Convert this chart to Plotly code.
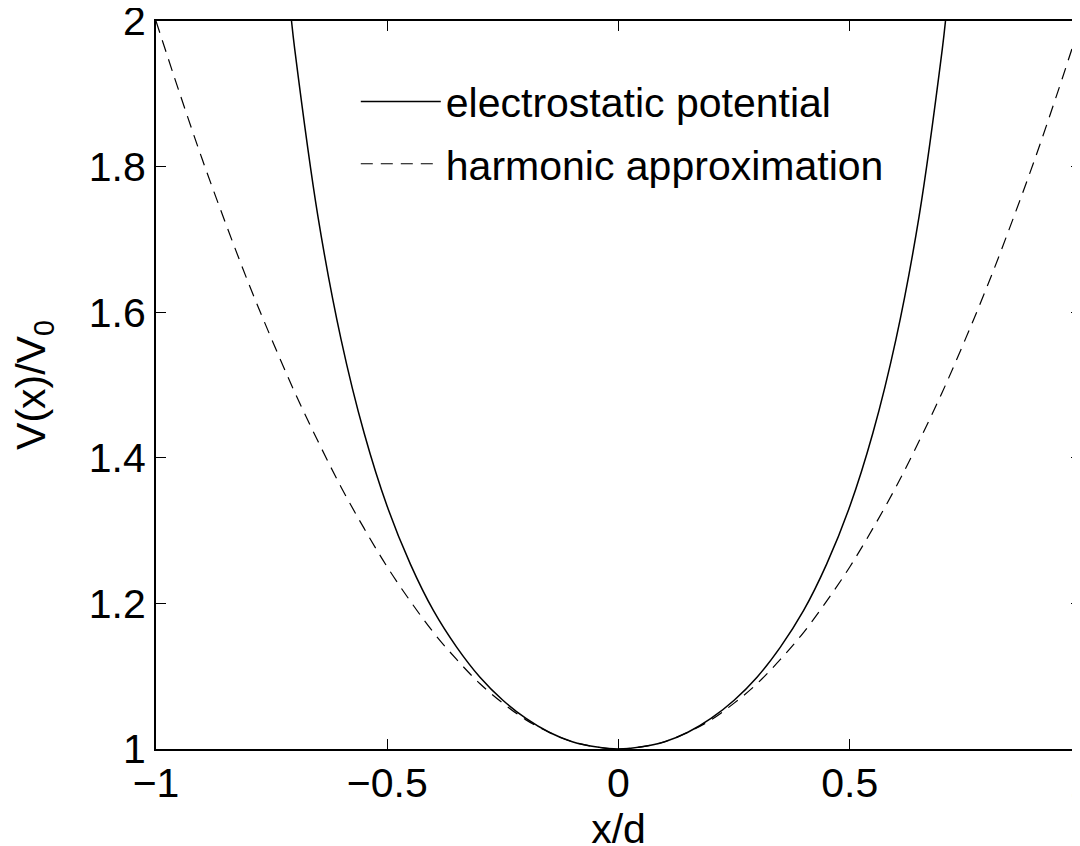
import plotly.graph_objects as go

# electrostatic potential V(x)/V0
x_es = [-0.707, -0.7, -0.65, -0.6, -0.55, -0.5, -0.45, -0.4, -0.35, -0.3, -0.25, -0.2, -0.15, -0.1, -0.05,
        0.0, 0.05, 0.1, 0.15, 0.2, 0.25, 0.3, 0.35, 0.4, 0.45, 0.5, 0.55, 0.6, 0.65, 0.7, 0.707]
y_es = [2.0, 1.961, 1.732, 1.563, 1.434, 1.333, 1.254, 1.190, 1.140, 1.099, 1.067, 1.042, 1.023, 1.010, 1.003,
        1.0, 1.003, 1.010, 1.023, 1.042, 1.067, 1.099, 1.140, 1.190, 1.254, 1.333, 1.434, 1.563, 1.732, 1.961, 2.0]

# harmonic approximation
x_ha = [-1.0, -0.95, -0.9, -0.85, -0.8, -0.75, -0.7, -0.65, -0.6, -0.55, -0.5, -0.45, -0.4, -0.35, -0.3, -0.25,
        -0.2, -0.15, -0.1, -0.05, 0.0, 0.05, 0.1, 0.15, 0.2, 0.25, 0.3, 0.35, 0.4, 0.45, 0.5, 0.55, 0.6, 0.65,
        0.7, 0.75, 0.8, 0.85, 0.9, 0.95, 1.0]
y_ha = [2.0, 1.903, 1.81, 1.723, 1.64, 1.563, 1.49, 1.423, 1.36, 1.303, 1.25, 1.203, 1.16, 1.123, 1.09, 1.063,
        1.04, 1.023, 1.01, 1.003, 1.0, 1.003, 1.01, 1.023, 1.04, 1.063, 1.09, 1.123, 1.16, 1.203, 1.25, 1.303,
        1.36, 1.423, 1.49, 1.563, 1.64, 1.723, 1.81, 1.903, 2.0]

x_ticks = [-1, -0.5, 0, 0.5, 1]
x_ticklabels = ["\u22121", "\u22120.5", "0", "0.5", "1"]
y_ticks = [1, 1.2, 1.4, 1.6, 1.8, 2]
y_ticklabels = ["1", "1.2", "1.4", "1.6", "1.8", "2"]

FONT = "Liberation Sans, Arial, Helvetica, sans-serif"
FS = 41

fig = go.Figure()
fig.add_trace(go.Scatter(x=x_es, y=y_es, mode="lines", name="electrostatic potential",
                         line=dict(color="black", width=1.5, shape="spline"), legendgroup="a"))
fig.add_trace(go.Scatter(x=x_ha, y=y_ha, mode="lines", name="harmonic approximation",
                         line=dict(color="black", width=1.2, dash="12px,8px", shape="spline"), legendgroup="b"))

axis_common = dict(showgrid=False, zeroline=False, showline=True, linecolor="black", linewidth=2,
                   mirror="ticks", ticks="inside", ticklen=10, tickwidth=1, tickcolor="black",
                   ticklabeloverflow="allow",
                   tickfont=dict(family=FONT, size=FS, color="black"))

fig.update_layout(
    width=1080, height=846,
    margin=dict(l=148, r=7, t=13, b=105),
    paper_bgcolor="white", plot_bgcolor="white",
    font=dict(family=FONT, size=FS, color="black"),
    showlegend=True,
    legend=dict(x=0.216, y=0.935, xanchor="left", yanchor="top", bgcolor="rgba(0,0,0,0)",
                borderwidth=0, font=dict(family=FONT, size=FS, color="black"), tracegroupgap=6,
                itemwidth=80),
    xaxis=dict(range=[-1, 1], tickvals=x_ticks, ticktext=x_ticklabels, ticklabelstandoff=-3,
               title=dict(text="x/d", font=dict(family=FONT, size=FS), standoff=0), automargin=False,
               **axis_common),
    yaxis=dict(range=[1, 2], tickvals=y_ticks, ticktext=y_ticklabels,
               title=dict(text="V(x)/V<sub>0</sub>", font=dict(family=FONT, size=FS), standoff=31), automargin=False,
               **axis_common),
)

fig.write_html("out.html")
